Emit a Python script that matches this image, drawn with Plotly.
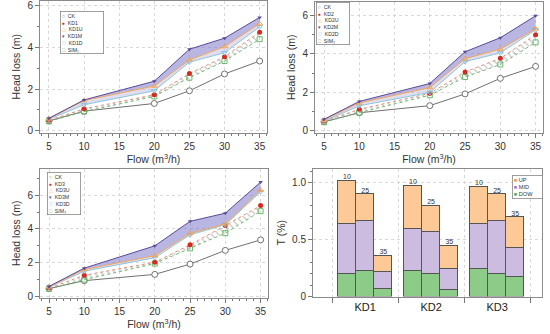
import plotly.graph_objects as go

# ---------------- data ----------------
flow = [5, 10, 20, 25, 30, 35]
ck = [0.47, 0.94, 1.31, 1.92, 2.73, 3.35]

kd1 = [0.50, 1.05, 1.73, 2.75, 3.56, 4.74]
kd1u = [0.58, 1.45, 2.15, 3.40, 4.05, 5.15]
kd1m = [0.60, 1.48, 2.38, 3.92, 4.45, 5.45]
kd1d = [0.55, 1.25, 1.92, 3.30, 3.75, 5.00]
sim1 = [0.45, 0.92, 1.65, 2.55, 3.35, 4.40]

kd2 = [0.50, 1.12, 1.95, 3.06, 3.77, 5.00]
kd2u = [0.55, 1.45, 2.25, 3.75, 4.25, 5.30]
kd2m = [0.60, 1.53, 2.46, 4.11, 4.84, 5.98]
kd2d = [0.50, 1.30, 2.00, 3.60, 4.05, 5.25]
sim2 = [0.45, 0.95, 1.85, 2.80, 3.45, 4.60]

kd3 = [0.50, 1.26, 2.03, 3.06, 4.20, 5.38]
kd3u = [0.58, 1.60, 2.42, 3.73, 4.30, 6.29]
kd3m = [0.60, 1.68, 3.00, 4.45, 4.93, 6.77]
kd3d = [0.55, 1.50, 2.30, 3.65, 4.25, 6.20]
sim3 = [0.45, 1.00, 1.95, 2.85, 3.75, 5.05]

groups = ["KD1", "KD2", "KD3"]
bar_flows = ["10", "25", "35"]
# per group, per flow (10, 25, 35)
dow = [[0.195, 0.224, 0.069], [0.221, 0.201, 0.060], [0.239, 0.201, 0.170]]
mid = [[0.443, 0.437, 0.144], [0.374, 0.365, 0.187], [0.399, 0.463, 0.261]]
up = [[0.376, 0.236, 0.146], [0.376, 0.227, 0.198], [0.325, 0.233, 0.264]]

x_ticks = [5, 10, 15, 20, 25, 30, 35]

# ---------------- styles ----------------
FONT = "Liberation Sans, Arial, sans-serif"
C_CK = "#707070"
C_KD = "#d42a20"
C_U = "#f2a65a"
C_M = "#5a4a9a"
C_D = "#8cc4dc"
C_SIM = "#6cb86c"

fig = go.Figure()


def add_panel(ax, kd, u, m, d, sim):
    xa, ya = ("x", "y") if ax == 1 else (f"x{ax}", f"y{ax}")
    common = dict(xaxis=xa, yaxis=ya, showlegend=False, x=flow)
    fig.add_trace(go.Scatter(y=ck, mode="lines+markers",
                             line=dict(color=C_CK, width=1),
                             marker=dict(symbol="circle", size=6, color="white",
                                         line=dict(color=C_CK, width=1)), **common))
    fig.add_trace(go.Scatter(y=sim, mode="lines+markers",
                             line=dict(color=C_SIM, width=1, dash="dot"),
                             marker=dict(symbol="square-open", size=5, color=C_SIM), **common))
    fig.add_trace(go.Scatter(y=kd, mode="lines+markers", fill="tonexty",
                             fillcolor="rgba(0,0,0,0)",
                             fillpattern=dict(shape="\\", fgcolor="#8a8a8a",
                                              bgcolor="rgba(0,0,0,0)", size=5, solidity=0.25),
                             line=dict(color="#e0907a", width=1, dash="dot"),
                             marker=dict(symbol="circle", size=5, color=C_KD), **common))
    fig.add_trace(go.Scatter(y=d, mode="lines+markers",
                             line=dict(color=C_D, width=1),
                             marker=dict(symbol="triangle-down-open", size=5, color=C_D), **common))
    fig.add_trace(go.Scatter(y=u, mode="lines+markers", fill="tonexty",
                             fillcolor="rgba(190,190,225,0.5)",
                             line=dict(color=C_U, width=1),
                             marker=dict(symbol="triangle-up-open", size=5, color=C_U), **common))
    fig.add_trace(go.Scatter(y=m, mode="lines+markers", fill="tonexty",
                             fillcolor="rgba(115,110,195,0.5)",
                             line=dict(color=C_M, width=1),
                             marker=dict(symbol="triangle-down", size=4, color=C_M), **common))


add_panel(1, kd1, kd1u, kd1m, kd1d, sim1)
add_panel(2, kd2, kd2u, kd2m, kd2d, sim2)
add_panel(3, kd3, kd3u, kd3m, kd3d, sim3)

# ---------------- bar panel ----------------
offsets = [-0.275, 0.0, 0.275]
bx, bdow, bmid, bup, btot, btxt = [], [], [], [], [], []
for gi, g in enumerate(groups):
    for fi, f in enumerate(bar_flows):
        bx.append(gi + 1 + offsets[fi])
        bdow.append(dow[gi][fi])
        bmid.append(mid[gi][fi])
        bup.append(up[gi][fi])
        btot.append(dow[gi][fi] + mid[gi][fi] + up[gi][fi])
        btxt.append(f)

bar_line = dict(color="#555555", width=1)
fig.add_trace(go.Bar(x=bx, y=bdow, width=0.27, marker=dict(color="#8dcb88", line=bar_line),
                     xaxis="x4", yaxis="y4", showlegend=False, name="DOW"))
fig.add_trace(go.Bar(x=bx, y=bmid, width=0.27, marker=dict(color="#cbbce0", line=bar_line),
                     xaxis="x4", yaxis="y4", showlegend=False, name="MID"))
fig.add_trace(go.Bar(x=bx, y=bup, width=0.27, marker=dict(color="#fdc996", line=bar_line),
                     xaxis="x4", yaxis="y4", showlegend=False, name="UP"))
fig.add_trace(go.Scatter(x=bx, y=btot, text=btxt, mode="text", textposition="top center",
                         textfont=dict(size=7, color="#333", family=FONT),
                         xaxis="x4", yaxis="y4", showlegend=False))

# ---------------- axes ----------------
W, H = 550, 334


def dx(a, b):
    return [a / W, b / W]


def dy(top, bottom):
    return [(H - bottom) / H, (H - top) / H]


axis_base = dict(showline=True, mirror=True, linecolor="#8a8a8a", linewidth=1,
                 ticks="outside", ticklen=4, tickcolor="#777", zeroline=False,
                 showgrid=True, gridcolor="#d8d8d8", griddash="dot", gridwidth=1,
                 tickfont=dict(size=10, color="#333", family=FONT))

flow_title = dict(text="Flow (m<sup>3</sup>/h)", font=dict(size=10.5, color="#333", family=FONT),
                  standoff=3)
hl_title = dict(text="Head loss (m)", font=dict(size=10.5, color="#333", family=FONT),
                standoff=4)

xline = dict(axis_base, tickvals=x_ticks, range=[3.72, 36.05],
             minor=dict(ticks="outside", ticklen=2, dtick=1, tickcolor="#777", showgrid=False),
             title=flow_title)

fig.update_layout(
    xaxis=dict(xline, domain=dx(40, 267), anchor="y"),
    yaxis=dict(axis_base, domain=dy(1, 135), anchor="x", range=[-0.09, 6.24], dtick=2,
               minor=dict(ticks="outside", ticklen=2, dtick=1, tickcolor="#777", showgrid=False),
               title=hl_title),
    xaxis2=dict(xline, domain=dx(315, 543), anchor="y2"),
    yaxis2=dict(axis_base, domain=dy(2, 135), anchor="x2", range=[-0.09, 6.7], dtick=2,
                minor=dict(ticks="outside", ticklen=2, dtick=1, tickcolor="#777", showgrid=False),
                title=hl_title),
    xaxis3=dict(xline, domain=dx(40, 268), anchor="y3"),
    yaxis3=dict(axis_base, domain=dy(172, 303), anchor="x3", range=[-0.06, 7.55], dtick=2,
                minor=dict(ticks="outside", ticklen=2, dtick=1, tickcolor="#777", showgrid=False),
                title=hl_title),
    xaxis4=dict(axis_base, domain=dx(313, 542), anchor="y4", range=[0.21, 3.68],
                tickvals=[1, 2, 3], ticktext=groups, ticks="", showgrid=False,
                tickfont=dict(size=11, color="#222", family=FONT),
                minor=dict(tickvals=[0.5, 1.5, 2.5, 3.5], ticks="outside", ticklen=5,
                           tickcolor="#777", showgrid=True, gridcolor="#d8d8d8", griddash="dot")),
    yaxis4=dict(axis_base, domain=dy(172, 302), anchor="x4", range=[0, 1.12],
                tickvals=[0, 0.5, 1.0], ticktext=["0", "0.5", "1.0"],
                minor=dict(ticks="outside", ticklen=2, dtick=0.1, tickcolor="#777", showgrid=False),
                title=dict(text="T (%)", font=dict(size=10.5, color="#333", family=FONT), standoff=4)),
    barmode="stack",
    bargap=0,
    width=W, height=H,
    margin=dict(l=0, r=0, t=0, b=0),
    paper_bgcolor="white", plot_bgcolor="white",
    font=dict(family=FONT, size=10, color="#333"),
    showlegend=False,
)


# ---------------- legends (text) ----------------
SUBS = {1: "\u2081", 2: "\u2082", 3: "\u2083"}


def legend_text(n):
    return (f"<span style='color:{C_CK}'>○</span>  CK<br>"
            f"<span style='color:{C_KD}'>●</span>  KD{n}<br>"
            f"<span style='color:{C_U}'>△</span>  KD{n}U<br>"
            f"<span style='color:{C_M}'>▾</span>  KD{n}M<br>"
            f"<span style='color:{C_D}'>▽</span>  KD{n}D<br>"
            f"<span style='color:{C_SIM}'>□</span>  SIM{SUBS[n]}")


leg_common = dict(xref="paper", yref="paper", xanchor="left", yanchor="top", align="left",
                  showarrow=False, bordercolor="#888", borderwidth=0.8,
                  borderpad=1, bgcolor="white", font=dict(size=5.2, color="#333", family=FONT))
fig.add_annotation(text=legend_text(1), x=60 / W, y=(H - 11) / H, width=40, **leg_common)
fig.add_annotation(text=legend_text(2), x=316 / W, y=(H - 2) / H, width=30, **leg_common)
fig.add_annotation(text=legend_text(3), x=47 / W, y=(H - 175) / H, width=30, **leg_common)
fig.add_annotation(text=("<span style='color:#f0a040'>■</span> UP<br>"
                         "<span style='color:#b07ad0'>■</span> MID<br>"
                         "<span style='color:#5db35d'>■</span> DOW"),
                   x=512 / W, y=(H - 178) / H, width=27,
                   **dict(leg_common, font=dict(size=5.6, color="#333", family=FONT)))

fig.write_html("out.html",
               config={"displayModeBar": False},
               post_script="document.body.style.margin='0';document.body.style.overflow='hidden';")
